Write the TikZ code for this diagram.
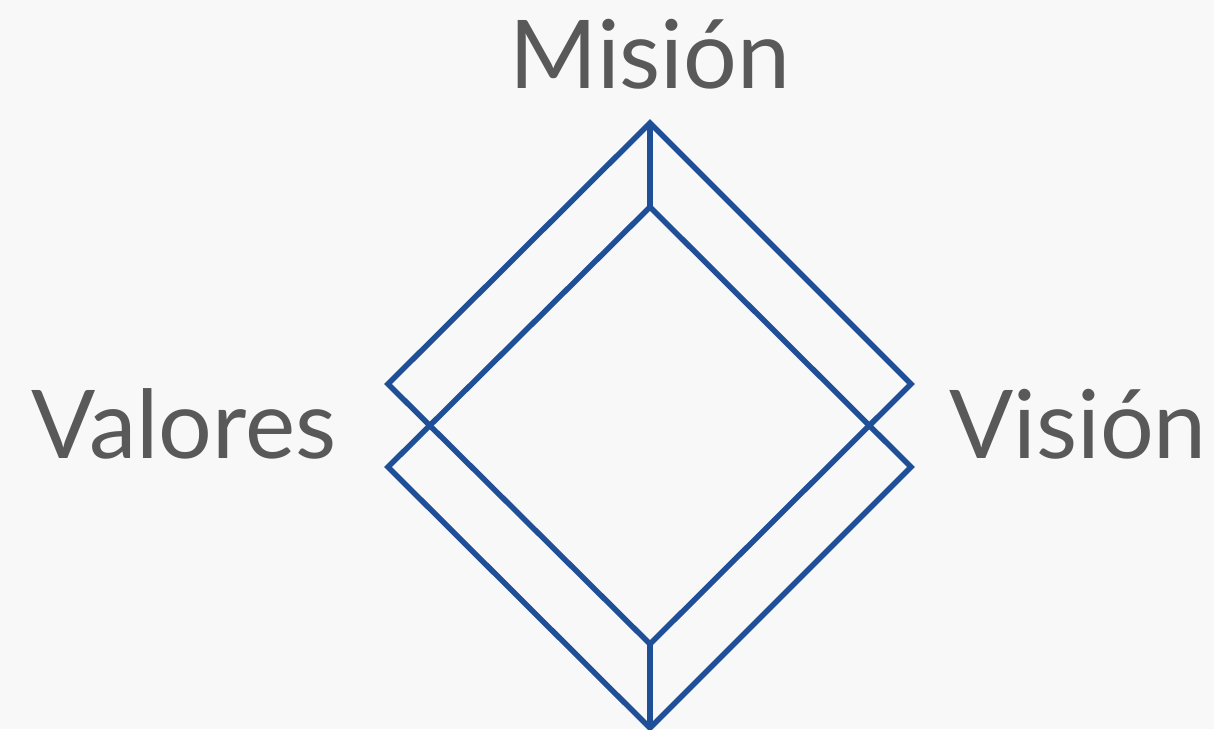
\documentclass[tikz,border=0pt]{standalone}
\usepackage{fontspec}
\setmainfont{Lato}
\definecolor{lineblue}{HTML}{1F4F96}
\definecolor{txtgray}{HTML}{595959}
\definecolor{bg}{HTML}{F8F8F8}
\begin{document}
\begin{tikzpicture}[x=0.01cm,y=-0.01cm,
  edge/.style={draw=lineblue,line width=0.055cm,line join=miter},
  lbl/.style={text=txtgray,font=\fontsize{27}{31}\selectfont,inner sep=0pt,anchor=base}]
\fill[bg] (0,0) rectangle (1214,729);
\useasboundingbox (0,0) rectangle (1214,729);
% upper diamond
\coordinate (at) at (650,123);
\coordinate (al) at (388,384);
\coordinate (ar) at (911,384);
\coordinate (ab) at (650,644);
% lower diamond
\coordinate (bt) at (650,207);
\coordinate (bl) at (388,467);
\coordinate (br) at (911,467);
\coordinate (bb) at (650,728);
\draw[edge] (at) -- (ar) -- (ab) -- (al) -- cycle;
\draw[edge] (bt) -- (br) -- (bb) -- (bl) -- cycle;
\draw[edge] (at) -- (bt);
\draw[edge] (ab) -- (bb);
\node[lbl] (mision) at (650,88) {Misión};
\node[lbl] (valores) at (184,458) {Valores};
\node[lbl] (vision) at (1078,458) {Visión};
\end{tikzpicture}
\end{document}
